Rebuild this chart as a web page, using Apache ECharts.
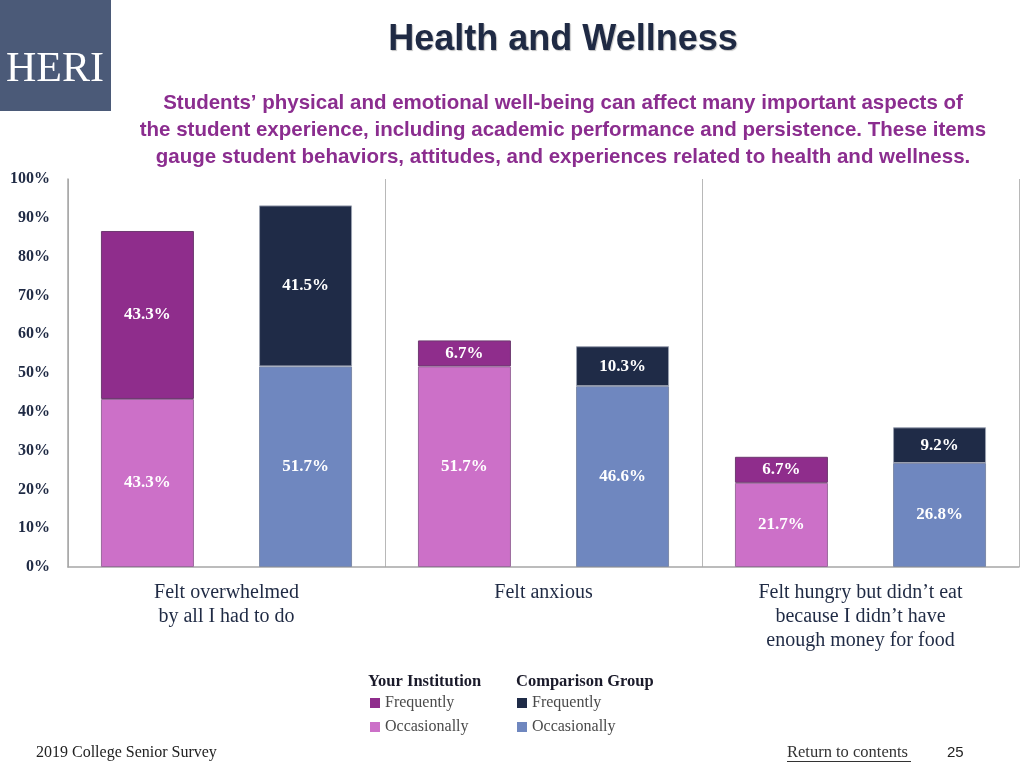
<!DOCTYPE html>
<html>
<head>
<meta charset="utf-8">
<script src="https://cdn.jsdelivr.net/npm/echarts@6/dist/echarts.min.js"></script>
<style>html,body{margin:0;padding:0;background:#fff;}#chart{width:1024px;height:768px;}</style>
</head>
<body>
<div id="chart"></div>
<script>
const categories = ['Felt overwhelmed\nby all I had to do', 'Felt anxious', 'Felt hungry but didn\u2019t eat\nbecause I didn\u2019t have\nenough money for food'];
const instOccasionally = [43.3, 51.7, 21.7];
const instFrequently = [43.3, 6.7, 6.7];
const compOccasionally = [51.7, 46.6, 26.8];
const compFrequently = [41.5, 10.3, 9.2];
const yTicks = [0, 10, 20, 30, 40, 50, 60, 70, 80, 90, 100];

const SERIF = '"Liberation Serif", "DejaVu Serif", serif';
const SANS = '"Liberation Sans", Arial, sans-serif';
const NAVY = '#1f2a44';

const colors = {
  instFreq: '#8f2d8c',
  instOcc: '#cc70c8',
  compFreq: '#1f2b47',
  compOcc: '#6f87bf'
};

function barSeries(name, data, stack, color, border) {
  return {
    name: name,
    type: 'bar',
    stack: stack,
    data: data,
    barWidth: 93,
    barGap: '70%',
    itemStyle: { color: color, borderColor: border, borderWidth: 1 },
    label: {
      show: true,
      position: 'inside',
      formatter: p => p.value.toFixed(1) + '%',
      color: '#ffffff',
      fontFamily: SERIF,
      fontWeight: 'bold',
      fontSize: 17
    }
  };
}

const legendBase = {
  orient: 'vertical',
  top: 694,
  padding: 0,
  icon: 'rect',
  itemWidth: 10,
  itemHeight: 10,
  itemGap: 6,
  itemStyle: { borderWidth: 0 },
  formatter: n => n.split(' ').pop(),
  textStyle: { fontFamily: SERIF, fontSize: 16, color: '#4a4a4a', lineHeight: 18 },
  selectedMode: false
};

const chart = echarts.init(document.getElementById('chart'), null, { renderer: 'canvas' });
chart.setOption({
  animation: false,
  backgroundColor: '#ffffff',
  grid: { left: 68, right: 5, top: 179, bottom: 201, containLabel: false },
  xAxis: {
    type: 'category',
    data: categories,
    axisLine: { show: true, lineStyle: { color: '#a6a6a6', width: 1.5 } },
    axisTick: { show: false },
    splitLine: { show: true, lineStyle: { color: '#b8b8b8', width: 1 } },
    axisLabel: {
      interval: 0,
      margin: 14,
      color: NAVY,
      fontFamily: SERIF,
      fontSize: 20,
      lineHeight: 24
    }
  },
  yAxis: {
    type: 'value',
    min: 0,
    max: 100,
    interval: 10,
    axisLine: { show: true, lineStyle: { color: '#a6a6a6', width: 1.5 } },
    axisTick: { show: false },
    splitLine: { show: false },
    axisLabel: {
      margin: 18,
      formatter: v => yTicks.indexOf(v) >= 0 ? v + '%' : '',
      color: NAVY,
      fontFamily: SERIF,
      fontWeight: 'bold',
      fontSize: 16,
      padding: [3, 0, 0, 0]
    }
  },
  legend: [
    Object.assign({}, legendBase, { left: 370, data: ['Your Institution Frequently', 'Your Institution Occasionally'] }),
    Object.assign({}, legendBase, { left: 517, data: ['Comparison Group Frequently', 'Comparison Group Occasionally'] })
  ],
  series: [
    barSeries('Your Institution Occasionally', instOccasionally, 'inst', colors.instOcc, '#9a6a9c'),
    barSeries('Your Institution Frequently', instFrequently, 'inst', colors.instFreq, '#6e3a70'),
    barSeries('Comparison Group Occasionally', compOccasionally, 'comp', colors.compOcc, '#7d8aa8'),
    barSeries('Comparison Group Frequently', compFrequently, 'comp', colors.compFreq, '#9aa0b0')
  ],
  graphic: [
    { type: 'rect', shape: { x: 0, y: 0, width: 111, height: 111 }, style: { fill: '#4b5a78' } },
    { type: 'text', x: 55, y: 70, style: { text: 'HERI', fill: '#ffffff', font: '42px ' + SERIF, textAlign: 'center', textVerticalAlign: 'middle' } },
    { type: 'text', x: 563, y: 40, style: { text: 'Health and Wellness', fill: NAVY, font: 'bold 36px ' + SANS, textAlign: 'center', textVerticalAlign: 'middle', textShadowColor: 'rgba(0,0,0,0.25)', textShadowOffsetX: 1, textShadowOffsetY: 1, textShadowBlur: 1 } },
    { type: 'text', x: 563, y: 130, style: { text: 'Students\u2019 physical and emotional well-being can affect many important aspects of\nthe student experience, including academic performance and persistence. These items\ngauge student behaviors, attitudes, and experiences related to health and wellness.', fill: '#8b2d8f', font: 'bold 20.5px ' + SANS, lineHeight: 27, textAlign: 'center', textVerticalAlign: 'middle' } },
    { type: 'text', x: 368, y: 682, style: { text: 'Your Institution', fill: '#1a1a2a', font: 'bold 16.5px ' + SERIF, textAlign: 'left', textVerticalAlign: 'middle' } },
    { type: 'text', x: 516, y: 682, style: { text: 'Comparison Group', fill: '#1a1a2a', font: 'bold 16.5px ' + SERIF, textAlign: 'left', textVerticalAlign: 'middle' } },
    { type: 'text', x: 36, y: 753, style: { text: '2019 College Senior Survey', fill: '#222222', font: '16px ' + SERIF, textAlign: 'left', textVerticalAlign: 'middle' } },
    { type: 'text', x: 787, y: 753, style: { text: 'Return to contents', fill: '#333333', font: '16.5px ' + SERIF, textAlign: 'left', textVerticalAlign: 'middle' } },
    { type: 'line', shape: { x1: 787, y1: 761.5, x2: 911, y2: 761.5 }, style: { stroke: '#333333', lineWidth: 1 } },
    { type: 'text', x: 947, y: 753, style: { text: '25', fill: '#222222', font: '15px ' + SANS, textAlign: 'left', textVerticalAlign: 'middle' } }
  ]
});
</script>
</body>
</html>
